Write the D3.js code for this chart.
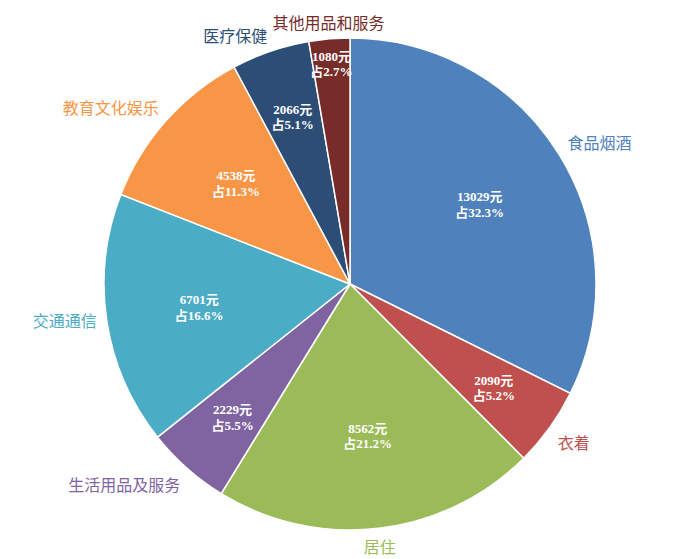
<!DOCTYPE html>
<html><head><meta charset="utf-8">
<script src="https://cdn.jsdelivr.net/npm/d3@7"></script>
<style>body{margin:0;background:#fff}</style>
</head><body>
<svg id="chart" width="700" height="559"></svg>
<script>
const categories = ["食品烟酒","衣着","居住","生活用品及服务","交通通信","教育文化娱乐","医疗保健","其他用品和服务"];
const values = [13029, 2090, 8562, 2229, 6701, 4538, 2066, 1080];
const colors = ["#4F81BD","#C0504D","#9BBB59","#8064A2","#4BACC6","#F79646","#2C4D75","#772C2A"];

const svg = d3.select("#chart");
const cx = 350, cy = 284, r = 246;
const total = d3.sum(values);
const data = categories.map((c, i) => ({name: c, value: values[i], color: colors[i]}));
const arcs = d3.pie().sort(null).value(d => d.value)(data);
const arc = d3.arc().innerRadius(0).outerRadius(r);
const g = svg.append("g").attr("transform", `translate(${cx},${cy})`);

// small slices get their labels pushed further out
function labelRadius(d) {
  const f = d.data.value / total;
  return r * (f < 0.03 ? 0.9 : f < 0.06 ? 0.72 : 0.62);
}

g.selectAll("path").data(arcs).enter().append("path")
  .attr("d", arc).attr("fill", d => d.data.color)
  .attr("stroke", "#fff").attr("stroke-width", 1.5);

const lab = g.selectAll("text.in").data(arcs).enter().append("text")
  .attr("class", "in")
  .attr("transform", d => {
    const a = (d.startAngle + d.endAngle) / 2, rr = labelRadius(d);
    return `translate(${Math.sin(a) * rr},${-Math.cos(a) * rr})`;
  })
  .attr("text-anchor", "middle")
  .style("font-family", "'Liberation Serif','Noto Sans CJK SC',serif")
  .style("font-size", "13px").style("font-weight", "bold").attr("fill", "#fff");
lab.append("tspan").attr("x", 0).attr("dy", "-0.2em").text(d => d.data.value + "元");
lab.append("tspan").attr("x", 0).attr("dy", "1.2em").text(d => "占" + (d.data.value / total * 100).toFixed(1) + "%");

g.selectAll("text.out").data(arcs).enter().append("text")
  .attr("class", "out")
  .each(function(d) {
    const a = (d.startAngle + d.endAngle) / 2;
    const rr = r + 10;
    const x = Math.sin(a) * rr, y = -Math.cos(a) * rr;
    const s = Math.sin(a);
    d3.select(this).attr("x", x).attr("y", y)
      .attr("text-anchor", Math.abs(s) < 0.25 ? "middle" : (s > 0 ? "start" : "end"))
      .attr("dominant-baseline", Math.cos(a) > 0.5 ? "auto" : (Math.cos(a) < -0.5 ? "hanging" : "middle"));
  })
  .style("font-family", "'Noto Sans CJK SC',serif")
  .style("font-size", "16px")
  .attr("fill", d => d.data.color)
  .text(d => d.data.name);
</script>
</body></html>
